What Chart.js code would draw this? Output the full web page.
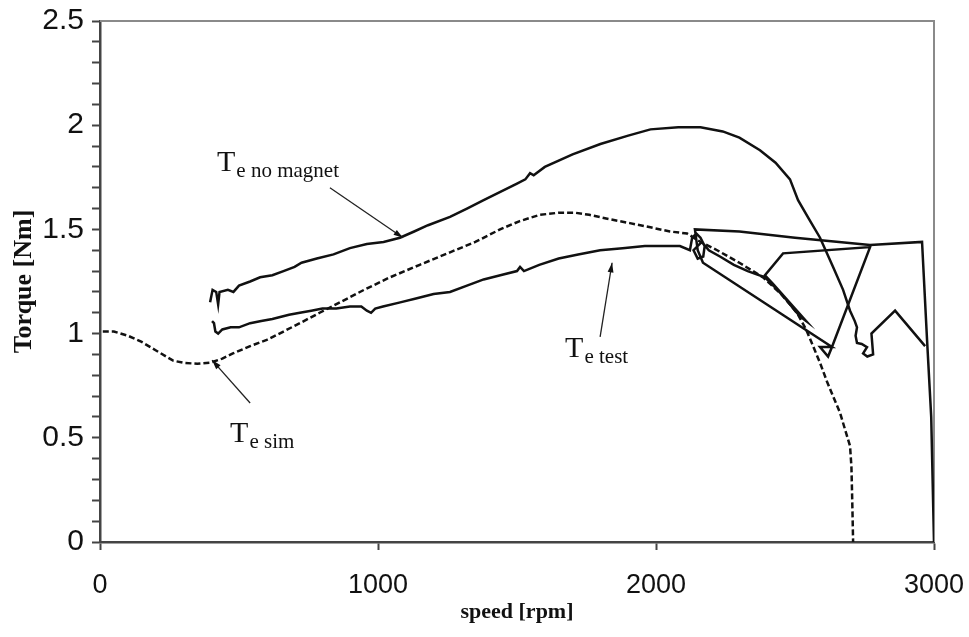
<!DOCTYPE html>
<html>
<head>
<meta charset="utf-8">
<script src="https://cdn.jsdelivr.net/npm/chart.js@4.4.1/dist/chart.umd.min.js"></script>
<style>
  body { margin: 0; background: #fff; }
  canvas { display: block; }
</style>
</head>
<body>
<canvas id="torqueChart" width="969" height="637"></canvas>
<script>
// Measured torque without magnet
const noMagnetSpeed = [396, 405, 418, 425, 430, 460, 480, 500, 540, 576, 620, 660, 700, 725, 780, 840, 899, 960, 1020, 1079, 1130, 1180, 1259, 1320, 1380, 1440, 1500, 1530, 1547, 1560, 1600, 1700, 1800, 1900, 1980, 2080, 2160, 2240, 2300, 2374, 2430, 2482, 2511, 2550, 2590, 2637, 2673, 2698, 2715, 2723, 2718, 2723, 2740, 2759, 2745, 2760, 2781, 2775, 2860, 2968];
const noMagnetTorque = [1.15, 1.21, 1.20, 1.14, 1.20, 1.21, 1.20, 1.23, 1.25, 1.27, 1.28, 1.30, 1.32, 1.34, 1.36, 1.38, 1.41, 1.43, 1.44, 1.46, 1.49, 1.52, 1.56, 1.60, 1.64, 1.68, 1.72, 1.74, 1.77, 1.76, 1.80, 1.86, 1.91, 1.95, 1.98, 1.99, 1.99, 1.97, 1.94, 1.88, 1.82, 1.74, 1.64, 1.55, 1.46, 1.32, 1.21, 1.11, 1.06, 1.03, 0.99, 0.955, 0.95, 0.935, 0.905, 0.89, 0.90, 1.00, 1.11, 0.94];

// Test bench torque
const testSpeed = [403, 410, 415, 425, 440, 470, 500, 540, 580, 620, 680, 719, 760, 800, 850, 899, 940, 960, 975, 990, 1018, 1080, 1140, 1200, 1259, 1320, 1380, 1440, 1500, 1511, 1525, 1580, 1650, 1720, 1799, 1880, 1960, 2040, 2086, 2122, 2130, 2145, 2160, 2175, 2170, 2150, 2135, 2165, 2190, 2230, 2280, 2330, 2392, 2430, 2470, 2500, 2520, 2540, 2500, 2460, 2420, 2392, 2457, 2770, 2633, 2619, 2590, 2633, 2169, 2150, 2140, 2300, 2500, 2770, 2957, 2975, 2990, 3000];
const testTorque = [1.06, 1.05, 1.01, 1.00, 1.02, 1.03, 1.03, 1.05, 1.06, 1.07, 1.09, 1.10, 1.11, 1.12, 1.12, 1.13, 1.13, 1.11, 1.10, 1.12, 1.13, 1.15, 1.17, 1.19, 1.20, 1.23, 1.26, 1.28, 1.30, 1.32, 1.30, 1.33, 1.36, 1.38, 1.40, 1.41, 1.42, 1.42, 1.42, 1.40, 1.46, 1.48, 1.46, 1.42, 1.37, 1.36, 1.40, 1.44, 1.40, 1.37, 1.33, 1.30, 1.27, 1.22, 1.16, 1.11, 1.08, 1.06, 1.12, 1.18, 1.24, 1.28, 1.385, 1.415, 0.936, 0.89, 0.936, 0.936, 1.34, 1.40, 1.50, 1.49, 1.46, 1.425, 1.44, 0.97, 0.60, 0];

// Simulated torque
const simSpeed = [10, 50, 100, 150, 200, 263, 300, 350, 396, 440, 478, 540, 600, 660, 719, 790, 863, 950, 1043, 1150, 1259, 1350, 1439, 1510, 1583, 1650, 1709, 1760, 1830, 1906, 1980, 2050, 2112, 2160, 2220, 2300, 2385, 2450, 2507, 2540, 2565, 2590, 2615, 2640, 2662, 2680, 2698, 2703, 2705, 2707, 2709];
const simTorque = [1.01, 1.01, 0.99, 0.96, 0.92, 0.87, 0.86, 0.855, 0.86, 0.88, 0.905, 0.94, 0.97, 1.01, 1.05, 1.10, 1.15, 1.21, 1.27, 1.33, 1.39, 1.44, 1.50, 1.54, 1.57, 1.58, 1.58, 1.57, 1.55, 1.53, 1.51, 1.49, 1.48, 1.44, 1.40, 1.34, 1.27, 1.19, 1.10, 1.02, 0.94, 0.86, 0.77, 0.69, 0.62, 0.54, 0.46, 0.36, 0.25, 0.13, 0.0];

const xTicks = [0, 1000, 2000, 3000];
const yLabels = [0, 0.5, 1, 1.5, 2, 2.5];

function toPoints(xs, ys) {
  return xs.map((x, i) => ({ x: x, y: ys[i] }));
}

// curve labels with leader arrows (speed / torque units)
const callouts = [
  { sub: 'e no magnet', at: [421, 1.78], from: [827, 1.70], to: [1090, 1.46] },
  { sub: 'e test', at: [1673, 0.888], from: [1799, 0.984], to: [1842, 1.34] },
  { sub: 'e sim', at: [468, 0.48], from: [540, 0.667], to: [403, 0.873] }
];

const calloutPlugin = {
  id: 'callouts',
  afterDatasetsDraw(chart) {
    const { ctx, scales: { x, y } } = chart;
    ctx.save();
    ctx.fillStyle = '#111';
    ctx.strokeStyle = '#222';
    callouts.forEach(c => {
      const tx = x.getPixelForValue(c.at[0]);
      const ty = y.getPixelForValue(c.at[1]);
      ctx.textBaseline = 'alphabetic';
      ctx.textAlign = 'left';
      ctx.font = '30px "Liberation Serif"';
      ctx.fillText('T', tx, ty);
      const tw = ctx.measureText('T').width;
      ctx.font = '21px "Liberation Serif"';
      ctx.fillText(c.sub, tx + tw + 1, ty + 6);

      const x0 = x.getPixelForValue(c.from[0]), y0 = y.getPixelForValue(c.from[1]);
      const x1 = x.getPixelForValue(c.to[0]), y1 = y.getPixelForValue(c.to[1]);
      ctx.lineWidth = 1.3;
      ctx.beginPath();
      ctx.moveTo(x0, y0);
      ctx.lineTo(x1, y1);
      ctx.stroke();
      const a = Math.atan2(y1 - y0, x1 - x0);
      ctx.beginPath();
      ctx.moveTo(x1, y1);
      ctx.lineTo(x1 - 10 * Math.cos(a - 0.3), y1 - 10 * Math.sin(a - 0.3));
      ctx.lineTo(x1 - 10 * Math.cos(a + 0.3), y1 - 10 * Math.sin(a + 0.3));
      ctx.closePath();
      ctx.fill();
    });
    ctx.restore();
  }
};

// thin frame on the top and right of the plot
const framePlugin = {
  id: 'frame',
  beforeDatasetsDraw(chart) {
    const { ctx, chartArea: a } = chart;
    ctx.save();
    ctx.strokeStyle = '#8a8a8a';
    ctx.lineWidth = 2;
    ctx.beginPath();
    ctx.moveTo(a.left, a.top);
    ctx.lineTo(a.right, a.top);
    ctx.lineTo(a.right, a.bottom);
    ctx.stroke();
    ctx.restore();
  }
};

// keep tick labels from pushing the plot area around
function noLabelPadding(scale) {
  scale.paddingTop = 0;
  scale.paddingBottom = 0;
  scale.paddingLeft = 0;
  scale.paddingRight = 0;
}

const line = {
  showLine: true,
  borderColor: '#111',
  borderWidth: 2.5,
  pointRadius: 0,
  tension: 0,
  fill: false
};

const ctx = document.getElementById('torqueChart').getContext('2d');
const torqueChart = new Chart(ctx, {
  type: 'scatter',
  data: {
    datasets: [
      Object.assign({ label: 'Te no magnet', data: toPoints(noMagnetSpeed, noMagnetTorque) }, line),
      Object.assign({ label: 'Te test', data: toPoints(testSpeed, testTorque) }, line),
      Object.assign({ label: 'Te sim', data: toPoints(simSpeed, simTorque), borderDash: [6, 3] }, line)
    ]
  },
  options: {
    responsive: false,
    animation: false,
    layout: { padding: { top: 21, right: 35, left: 0, bottom: 0 } },
    plugins: {
      legend: { display: false },
      tooltip: { enabled: false }
    },
    scales: {
      x: {
        type: 'linear',
        min: 0,
        max: 3000,
        afterBuildTicks: scale => { scale.ticks = xTicks.map(v => ({ value: v })); },
        ticks: {
          color: '#111',
          font: { family: 'Liberation Sans', size: 27 },
          padding: 19,
          maxRotation: 0,
          callback: v => String(v)
        },
        grid: { drawOnChartArea: false, drawTicks: true, tickLength: 8, tickWidth: 2, tickColor: '#444' },
        border: { color: '#444', width: 2.5 },
        title: {
          display: true,
          text: 'speed [rpm]',
          color: '#111',
          font: { family: 'Liberation Serif', size: 22, weight: 'bold' },
          padding: { top: 0, bottom: 11 }
        },
        afterFit: scale => { scale.height = 95; noLabelPadding(scale); }
      },
      y: {
        min: 0,
        max: 2.5,
        ticks: {
          stepSize: 0.1,
          autoSkip: false,
          color: '#111',
          font: { family: 'Liberation Sans', size: 30 },
          padding: 8,
          callback: v => {
            const hit = yLabels.find(l => Math.abs(l - v) < 1e-6);
            return hit === undefined ? '' : String(hit);
          }
        },
        grid: { drawOnChartArea: false, drawTicks: true, tickLength: 8, tickWidth: 2, tickColor: '#444' },
        border: { color: '#444', width: 2.5 },
        title: {
          display: true,
          text: 'Torque [Nm]',
          color: '#111',
          font: { family: 'Liberation Serif', size: 26, weight: 'bold' },
          padding: { top: 9, bottom: 0 }
        },
        afterFit: scale => { scale.width = 100; noLabelPadding(scale); }
      }
    }
  },
  plugins: [framePlugin, calloutPlugin]
});
</script>
</body>
</html>
